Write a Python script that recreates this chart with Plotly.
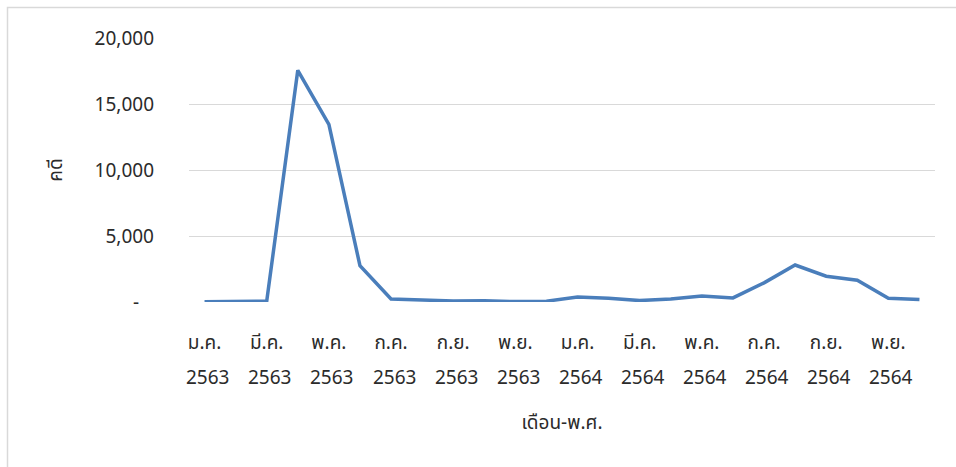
import plotly.graph_objects as go

# Monthly case counts, Jan 2563 - Dec 2564 (Buddhist Era)
months = ["ม.ค.", "ก.พ.", "มี.ค.", "เม.ย.", "พ.ค.", "มิ.ย.",
          "ก.ค.", "ส.ค.", "ก.ย.", "ต.ค.", "พ.ย.", "ธ.ค."]
years = ["2563", "2564"]
cases = [20, 30, 60, 17550, 13450, 2750, 230, 150, 80, 100, 30, 60,
         380, 280, 110, 230, 450, 310, 1450, 2800, 1950, 1650, 280, 180]

y_tickvals = [0, 5000, 10000, 15000, 20000]
y_ticktext = ["-\u00a0\u00a0\u00a0", "5,000", "10,000", "15,000", "20,000"]

categories = [f"{m} {y}" for y in years for m in months]
x_idx = list(range(len(categories)))
label_idx = x_idx[::2]
label_month = [categories[i].split(" ")[0] for i in label_idx]
label_year = [categories[i].split(" ")[1] for i in label_idx]

FONT = "Leelawadee UI, Tahoma, Noto Sans Thai, Noto Sans, sans-serif"
TXT = "#2b2b2b"
FS = 19

W, H = 956, 467
L, R, T, B = 189, 21, 38, 165
pw, ph = W - L - R, H - T - B

fig = go.Figure()
fig.add_trace(go.Scatter(
    x=x_idx, y=cases, mode="lines",
    line=dict(color="#4A7EBB", width=3.5),
    hoverinfo="y",
))

# Year row underneath the month tick labels
for i, yr in zip(label_idx, label_year):
    fig.add_annotation(x=i, y=-0.288, xref="x", yref="paper", text=yr,
                       showarrow=False, xanchor="center", yanchor="middle",
                       xshift=3,
                       font=dict(family=FONT, size=FS, color=TXT))

# Light frame around the chart area
def px_to_paper_x(px):
    return (px - L) / pw

def px_to_paper_y(py):
    return (H - B - py) / ph

fig.add_shape(type="rect", xref="paper", yref="paper",
              x0=px_to_paper_x(7.5), x1=px_to_paper_x(W + 5),
              y0=px_to_paper_y(H + 5), y1=px_to_paper_y(7.5),
              line=dict(color="#D9D9D9", width=1.5), fillcolor="rgba(0,0,0,0)",
              layer="below")

fig.update_layout(
    width=W, height=H,
    margin=dict(l=L, r=R, t=T, b=B, autoexpand=False),
    paper_bgcolor="white", plot_bgcolor="white",
    showlegend=False,
    font=dict(family=FONT, size=FS, color=TXT),
    xaxis=dict(
        range=[-0.5, len(categories) - 0.5],
        tickmode="array", tickvals=label_idx, ticktext=label_month,
        showgrid=False, zeroline=False, showline=False, ticks="",
        ticklabelstandoff=27,
        tickfont=dict(family=FONT, size=FS, color=TXT),
        title=dict(text="เดือน-พ.ศ.", standoff=58,
                   font=dict(family=FONT, size=FS, color=TXT)),
        automargin=False,
    ),
    yaxis=dict(
        range=[0, 20000],
        tickmode="array", tickvals=y_tickvals, ticktext=y_ticktext,
        showgrid=True, gridcolor="#D9D9D9", gridwidth=1.3,
        zeroline=False, showline=False, ticks="",
        ticklabelstandoff=34,
        tickfont=dict(family=FONT, size=FS, color=TXT),
        title=dict(text="คดี", standoff=26,
                   font=dict(family=FONT, size=FS, color=TXT)),
        automargin=False,
    ),
)

fig.write_html("out.html")
